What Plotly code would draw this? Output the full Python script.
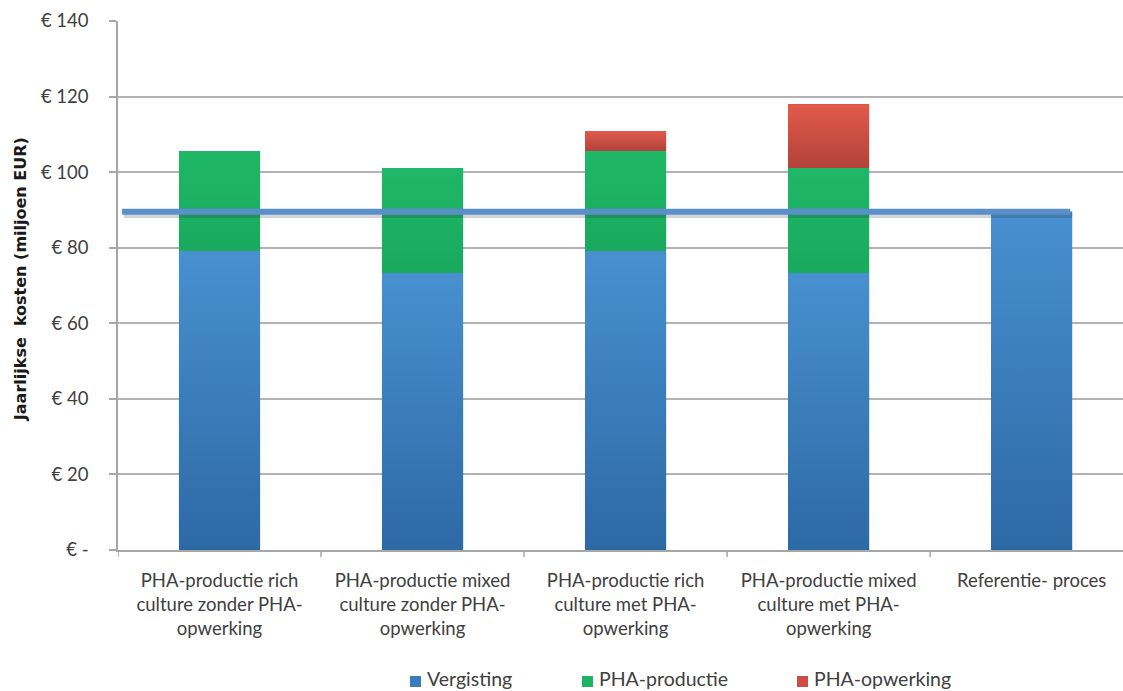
import plotly.graph_objects as go

# Annual costs per process variant (million EUR)
categories = [
    "PHA-productie rich<br>culture zonder PHA-<br>opwerking",
    "PHA-productie mixed<br>culture zonder PHA-<br>opwerking",
    "PHA-productie rich<br>culture met PHA-<br>opwerking",
    "PHA-productie mixed<br>culture met PHA-<br>opwerking",
    "Referentie- proces",
]
vergisting = [79.1, 73.3, 79.1, 73.3, 89.5]
pha_productie = [26.5, 27.8, 26.5, 27.8, 0]
pha_opwerking = [0, 0, 5.3, 16.9, 0]
referentie_niveau = 89.5

tick_vals = [0, 20, 40, 60, 80, 100, 120, 140]
tick_text = ["€ -", "€ 20", "€ 40", "€ 60", "€ 80", "€ 100", "€ 120", "€ 140"]

font_family = "Lato, 'Open Sans', sans-serif"
text_color = "#404040"
x_idx = list(range(len(categories)))
bar_width = 0.4

# name, values, flat colour, gradient bottom, gradient top
series = [
    ("Vergisting", vergisting, "#3a7dbf", "#2d69a5", "#4890d0"),
    ("PHA-productie", pha_productie, "#1db264", "#1aa95e", "#1fb768"),
    ("PHA-opwerking", pha_opwerking, "#cd4e42", "#b2433a", "#e25a4b"),
]

fig = go.Figure()
for name, vals, flat, _, _ in series:
    fig.add_trace(go.Bar(x=x_idx, y=vals, name=name, width=bar_width,
                         showlegend=False,
                         marker=dict(color=flat, line=dict(width=0))))

# Vertical shading on each stacked segment
base = [0.0] * len(categories)
for name, vals, _, c_bot, c_top in series:
    for i, v in enumerate(vals):
        if v > 0:
            lo, hi = base[i], base[i] + v
            xl, xr = i - bar_width / 2, i + bar_width / 2
            fig.add_trace(go.Scatter(
                x=[xl, xr, xr, xl, xl], y=[lo, lo, hi, hi, lo],
                mode="lines", line=dict(width=0), fill="toself",
                fillgradient=dict(type="vertical", start=lo, stop=hi,
                                  colorscale=[[0, c_bot], [1, c_top]]),
                showlegend=False, hoverinfo="skip"))
        base[i] += v

# Reference level line with a soft shadow underneath
fig.add_shape(type="line", xref="x", yref="y", x0=-0.47, x1=4.2,
              y0=referentie_niveau - 0.7, y1=referentie_niveau - 0.7,
              line=dict(color="rgba(40,60,60,0.22)", width=7), layer="above")
fig.add_shape(type="line", xref="x", yref="y", x0=-0.48, x1=4.19,
              y0=referentie_niveau, y1=referentie_niveau,
              line=dict(color="#5a8fca", width=6), layer="above")

# Category boundary ticks along the x axis
for b in [-0.5, 0.5, 1.5, 2.5, 3.5]:
    fig.add_shape(type="line", xref="x", yref="paper", x0=b, x1=b,
                  y0=0, y1=-0.013, line=dict(color="#a6a6a6", width=1.5))

# Legend row below the category labels (pixel positions in the figure)
legend_left = [410, 582, 797]
W, H = 1123, 691
for (name, _, flat, _, _), px in zip(series, legend_left):
    fig.add_shape(type="rect", xref="paper", yref="paper",
                  x0=(px - 118) / (W - 118), x1=(px + 11 - 118) / (W - 118),
                  y0=(550 - 676) / 529, y1=(550 - 687) / 529,
                  fillcolor=flat, line=dict(width=0))
    fig.add_annotation(text=name, xref="paper", yref="paper",
                       x=(px + 16 - 118) / (W - 118), y=(550 - 678) / 529,
                       xanchor="left", yanchor="middle", showarrow=False,
                       borderpad=0,
                       font=dict(size=19.5, color=text_color))

fig.add_annotation(text="<b>Jaarlijkse  kosten (miljoen EUR)</b>",
                   xref="paper", yref="paper", x=(20 - 118) / (W - 118),
                   y=0.512, xanchor="center", yanchor="middle",
                   textangle=-90, showarrow=False,
                   font=dict(family="'DejaVu Sans', sans-serif", size=16,
                             color="#1a1a1a"))

fig.update_layout(
    width=W, height=H,
    margin=dict(l=118, r=0, t=21, b=141, autoexpand=False),
    barmode="stack",
    plot_bgcolor="white", paper_bgcolor="white",
    font=dict(family=font_family, color=text_color, size=18),
    showlegend=False,
    xaxis=dict(range=[-0.5, 4.45], tickmode="array", tickvals=x_idx,
               ticktext=categories, showgrid=False, zeroline=False,
               showline=True, linecolor="#a6a6a6", linewidth=1.5,
               ticks="", automargin=False, ticklabelstandoff=13,
               tickfont=dict(size=18.5, color=text_color)),
    yaxis=dict(range=[0, 140], tickmode="array", tickvals=tick_vals,
               ticktext=tick_text, showgrid=True, gridcolor="#b3b3b3",
               gridwidth=1.5, zeroline=False, showline=True,
               linecolor="#a6a6a6", linewidth=1.5, ticks="outside",
               ticklen=7, tickcolor="#a6a6a6", tickwidth=1.5,
               ticklabelstandoff=17, automargin=False,
               tickfont=dict(size=18.5, color=text_color)),
)

fig.write_html("out.html")
